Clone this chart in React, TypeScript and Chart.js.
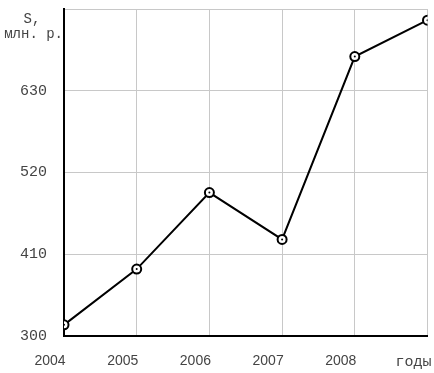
import React, { useEffect, useRef } from "react";
import { Chart, registerables } from "chart.js";

Chart.register(...registerables);

const categories = ["2004", "2005", "2006", "2007", "2008", "годы"];
const values = [315, 390, 493, 430, 676, 725];
const yMin = 300;
const yMax = 740;
const yStep = 110;
const yTitle = ["S,", "млн. р."];

const textColor = "#444";
const monoFont = "'Courier New', FreeMono, 'Nimbus Mono PS', 'Liberation Mono', monospace";
const sansFont = "'Liberation Sans', Arial, sans-serif";

const titlePlugin = {
  id: "yTitle",
  afterDraw(chart: any) {
    const { ctx, chartArea } = chart;
    ctx.save();
    ctx.fillStyle = textColor;
    ctx.font = `14px ${monoFont}`;
    ctx.textBaseline = "middle";
    ctx.textAlign = "center";
    ctx.fillText(yTitle[0], chartArea.left - 32, chartArea.top + 10);
    ctx.textAlign = "right";
    ctx.fillText(yTitle[1], chartArea.left - 1, chartArea.top + 25);
    ctx.restore();
  },
};

export default function App() {
  const ref = useRef<HTMLCanvasElement>(null);
  useEffect(() => {
    if (!ref.current) return;
    const chart = new Chart(ref.current, {
      type: "line",
      data: {
        labels: categories,
        datasets: [
          {
            data: values,
            showLine: false,
            pointRadius: 1,
            pointHoverRadius: 1,
            pointBackgroundColor: "#000",
            pointBorderWidth: 0,
            clip: 0,
          },
          {
            data: values,
            borderColor: "#000",
            borderWidth: 2,
            pointRadius: 4.5,
            pointHoverRadius: 4.5,
            pointBackgroundColor: "#fff",
            pointBorderColor: "#000",
            pointBorderWidth: 2,
            tension: 0,
            clip: 0,
          },
        ],
      },
      options: {
        responsive: false,
        animation: false,
        events: [],
        layout: { padding: { left: 0, right: 5, top: 9, bottom: 0 } },
        plugins: {
          legend: { display: false },
          tooltip: { enabled: false },
        },
        scales: {
          x: {
            type: "category",
            offset: false,
            grid: { color: "#c8c8c8", lineWidth: 1, drawTicks: false },
            border: { color: "#000", width: 2 },
            ticks: {
              padding: 17,
              color: textColor,
              maxRotation: 0,
              autoSkip: false,
              labelOffset: -14,
              font: (c: any) =>
                c.index === categories.length - 1
                  ? { family: monoFont, size: 15 }
                  : { family: sansFont, size: 14 },
            },
            afterFit: (s: any) => {
              s.paddingLeft = 0;
              s.paddingRight = 0;
              s.height = 37;
            },
          },
          y: {
            min: yMin,
            max: yMax,
            grid: { color: "#c8c8c8", lineWidth: 1, drawTicks: false },
            border: { color: "#000", width: 2 },
            ticks: {
              stepSize: yStep,
              padding: 17,
              color: textColor,
              font: { family: monoFont, size: 15 },
              callback: (v: any) => (v === yMax ? "" : String(v)),
            },
            afterFit: (s: any) => {
              s.width = 64;
              s.paddingTop = 0;
              s.paddingBottom = 0;
            },
          },
        },
      },
      plugins: [titlePlugin],
    });
    return () => chart.destroy();
  }, []);
  return (
    <div style={{ position: "fixed", left: 0, top: 0, width: 434, height: 373, background: "#fff" }}>
      <canvas ref={ref} width={434} height={373} style={{ display: "block" }} />
    </div>
  );
}
